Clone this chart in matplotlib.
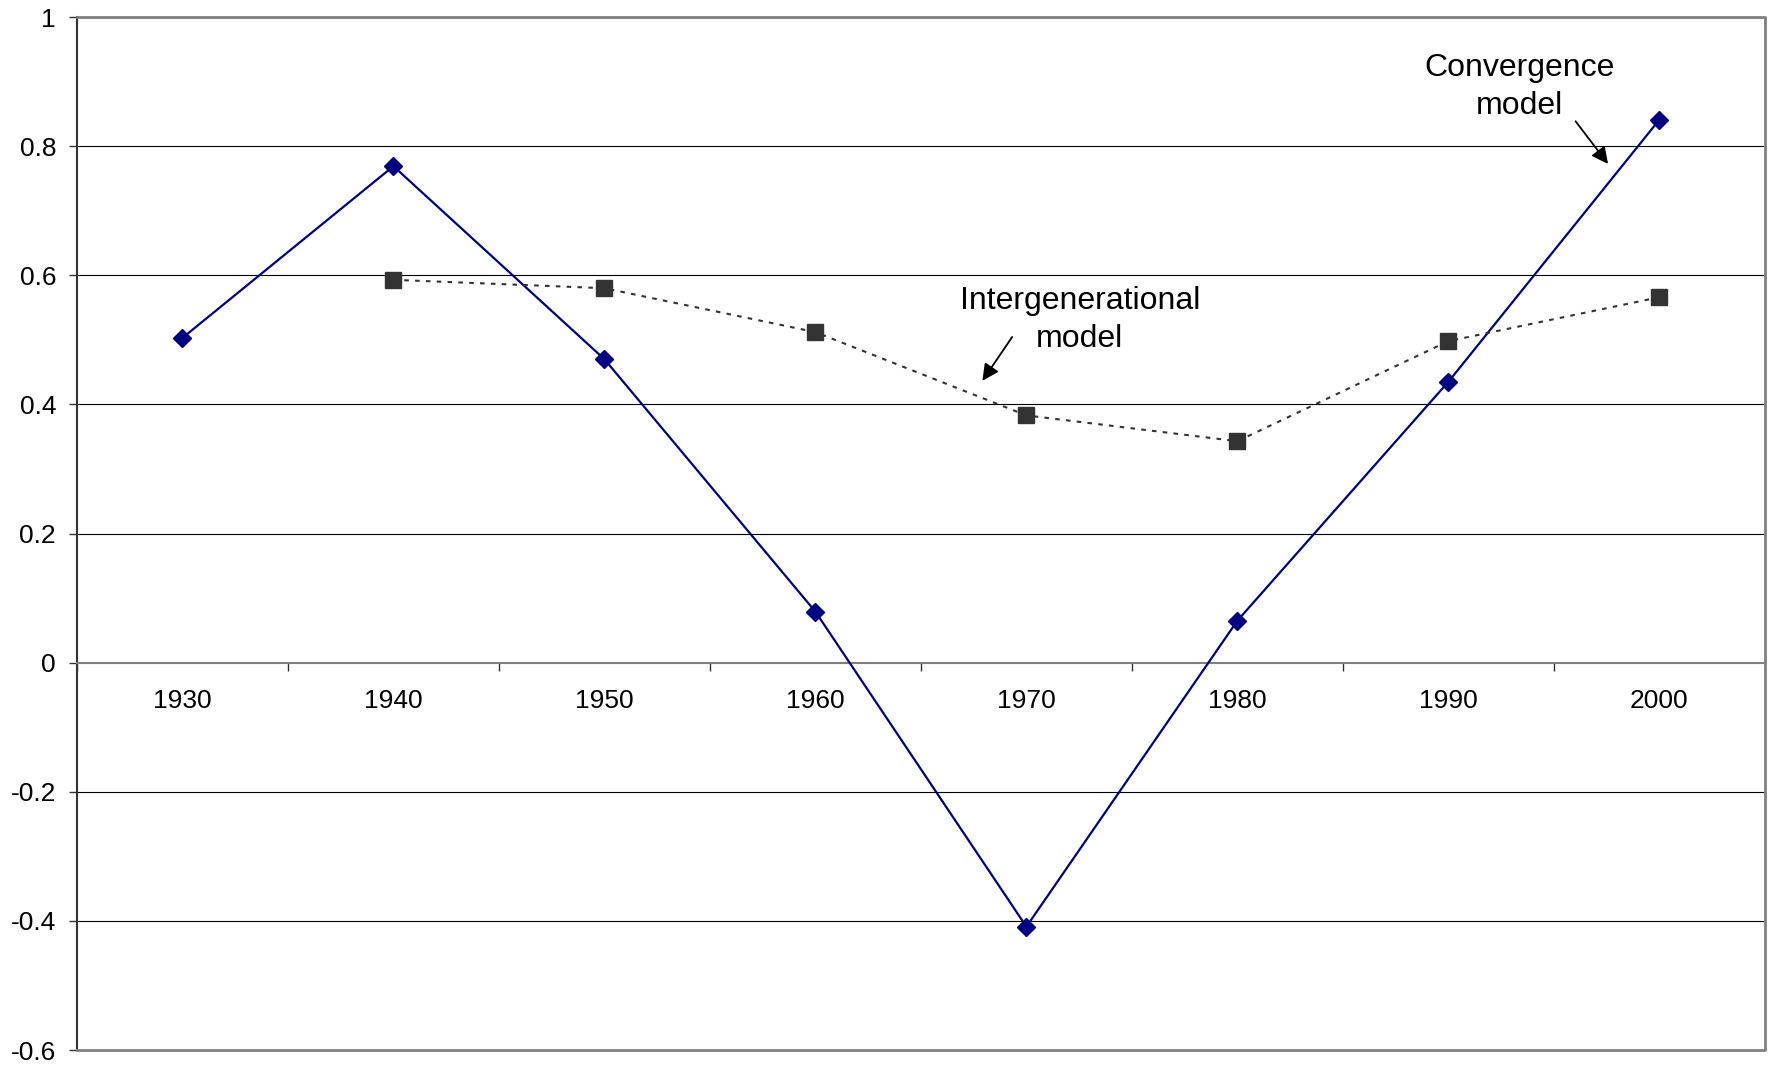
"""Convergence vs intergenerational model, 1930-2000"""

#%% Importing modules
import matplotlib
matplotlib.use('Agg')
import matplotlib.pyplot as plt

plt.rcParams['font.family'] = ['Liberation Sans', 'DejaVu Sans']

#%% Data
decades = ['1930', '1940', '1950', '1960', '1970', '1980', '1990', '2000']
convergence = [0.503, 0.769, 0.470, 0.079, -0.409, 0.065, 0.435, 0.841]
# intergenerational series starts in 1940
inter_decades = ['1940', '1950', '1960', '1970', '1980', '1990', '2000']
intergenerational = [0.593, 0.580, 0.512, 0.383, 0.343, 0.498, 0.566]

y_ticks = [1, 0.8, 0.6, 0.4, 0.2, 0, -0.2, -0.4, -0.6]
y_labels = ['1', '0.8', '0.6', '0.4', '0.2', '0', '-0.2', '-0.4', '-0.6']

#%% Positions of the categories
x_conv = [decades.index(d) for d in decades]
x_inter = [decades.index(d) for d in inter_decades]

#%% Figure
fig = plt.figure(figsize=(17.73, 10.66), dpi=100)
ax = fig.add_axes([0.0434, 0.0150, 0.952, 0.969])

# horizontal gridlines
for v in y_ticks[1:-1]:
    if v != 0:
        ax.axhline(v, color='black', lw=0.8, zorder=1)

ax.plot(x_conv, convergence, color='#000080', lw=1.6, marker='D',
        markersize=9, zorder=3)
ax.plot(x_inter, intergenerational, color='#333333', lw=1.5,
        linestyle=(0, (2.2, 3)), marker='s', markersize=11, zorder=3)

ax.set_xlim(-0.5, len(decades) - 0.5)
ax.set_ylim(-0.6, 1)

#%% Axes: x axis crosses at zero
for s in ['top', 'right']:
    ax.spines[s].set_visible(False)
ax.spines['bottom'].set_position(('data', 0))
ax.spines['bottom'].set_color('#808080')
ax.spines['bottom'].set_linewidth(1.5)
ax.spines['left'].set_color('#333333')
ax.spines['left'].set_linewidth(1.5)
# outer frame (top, right, bottom)
ax.plot([0, 1, 1, 0], [1, 1, 0, 0], transform=ax.transAxes, color='#808080',
        lw=2, clip_on=False, zorder=4)

ax.set_xticks([i - 0.5 for i in range(len(decades) + 1)])
ax.set_xticklabels([])
ax.tick_params(axis='x', which='major', direction='out', length=6,
               width=1, color='#333333')
ax.set_xticks(x_conv, minor=True)
ax.set_xticklabels(decades, minor=True)
ax.tick_params(axis='x', which='minor', length=0, pad=19, labelsize=19)

ax.set_yticks(y_ticks)
ax.set_yticklabels(y_labels)
ax.tick_params(axis='y', direction='out', length=6, width=1,
               color='#333333', pad=9, labelsize=19)

#%% Annotations
ax.text(6.339, 0.892, 'Convergence\nmodel', ha='center', va='center',
        fontsize=23, linespacing=1.35)
ax.annotate('', xy=(6.765, 0.769), xytext=(6.595, 0.842),
            arrowprops=dict(arrowstyle='-|>', color='black', lw=1.3,
                            mutation_scale=25))
ax.text(4.253, 0.531, 'Intergenerational\nmodel', ha='center', va='center',
        fontsize=23, linespacing=1.35)
ax.annotate('', xy=(3.784, 0.433), xytext=(3.94, 0.508),
            arrowprops=dict(arrowstyle='-|>', color='black', lw=1.3,
                            mutation_scale=25))

fig.savefig('out.png', dpi=100)
